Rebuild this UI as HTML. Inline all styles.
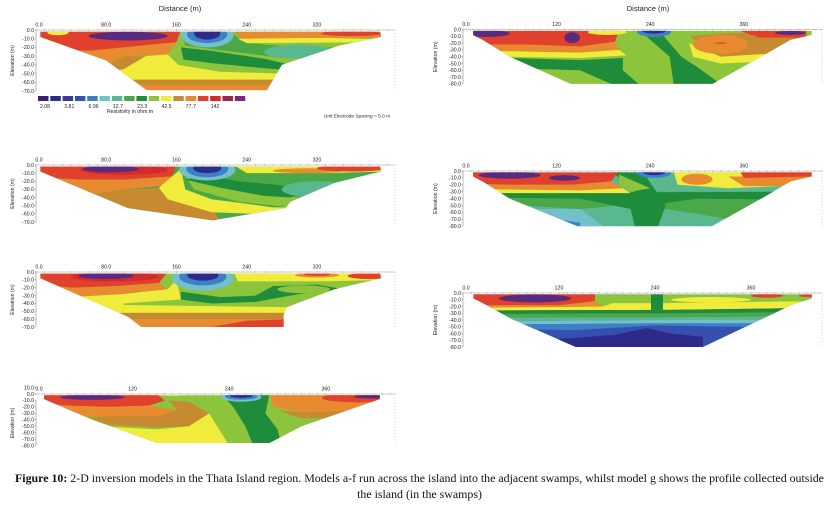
<!DOCTYPE html>
<html><head><meta charset="utf-8">
<style>
html,body{margin:0;padding:0;background:#fff;}
body{width:839px;height:509px;overflow:hidden;position:relative;font-family:"Liberation Sans",sans-serif;}
svg{position:absolute;left:0;top:0;}
.cap{position:absolute;left:0;width:839px;text-align:center;font-family:"Liberation Serif",serif;font-size:11.9px;color:#111;white-space:nowrap;}
</style></head>
<body>
<svg id="fig" width="839" height="509" viewBox="0 0 839 509"></svg>
<div class="cap" style="top:471px"><b>Figure 10:</b> 2-D inversion models in the Thata Island region. Models a-f run across the island into the adjacent swamps, whilst model g shows the profile collected outside</div>
<div class="cap" style="top:487px">the island (in the swamps)</div>
<script>
// ---- data ----
const legendColors = ["#3b1f6e","#2d2a8a","#3a3a9a","#3650b0","#3c80c8","#74c0c8","#5ab890","#4aa848","#1e8c3a","#8cc43c","#f0ec3c","#c88a30","#e88a30","#e0402c","#d42a2a","#9a2848","#7a2a7a"];
const legendValues = ["2.08","3.81","6.96","12.7","23.3","42.5","77.7","142"];
const xTicksA = [0,80,160,240,320];
const xTickLabelsA = ["0.0","80.0","160","240","320"];
const xTicksB = [0,120,240,360];
const xTickLabelsB = ["0.0","120","240","360"];
const yTicks70 = [0,-10,-20,-30,-40,-50,-60,-70];
const yTicks80 = [0,-10,-20,-30,-40,-50,-60,-70,-80];
const yTicksD = [10,0,-10,-20,-30,-40,-50,-60,-70,-80];

const C={pu:"#5a2a80",db:"#2d2a8a",bl:"#3650b0",mb:"#3c80c8",cy:"#74c0c8",te:"#5ab890",gr:"#4aa848",dg:"#1e8c3a",lg:"#8cc43c",ye:"#f0ec3c",br:"#c88a30",or:"#e88a30",rd:"#e0402c",dr:"#d42a2a"};

const panels=[
 {id:"a",x0:36,sx:0.878,y0:30,sy:0.871,xr:395,yTicks:yTicks70,xt:xTicksA,xl:xTickLabelsA,ylab:14,
  outline:[[5,2],[392,2],[393,8],[345,18],[280,40],[263,69],[126,69],[80,35],[5,8]],base:C.lg,
  layers:[
   [C.rd,[[0,0],[165,0],[160,14],[120,18],[60,24],[0,22]]],
   [C.or,[[0,22],[60,24],[120,18],[160,14],[150,28],[100,30],[80,42],[0,42]]],
   [C.br,[[0,42],[80,42],[100,30],[125,30],[100,45],[0,60]]],
   [C.ye,[[100,45],[125,30],[150,28],[162,40],[210,48],[280,50],[280,58],[0,58]]],
   [C.br,[[0,57],[400,57],[400,63],[0,63]]],
   [C.or,[[0,63],[400,63],[400,72],[0,72]]],
   [C.gr,[[165,5],[225,5],[240,15],[300,20],[400,20],[400,30],[280,32],[200,22],[170,18]]],
   [C.dg,[[165,20],[200,24],[260,33],[290,40],[285,46],[240,42],[200,38],[168,34]]],
   ["e",C.te,[300,25,40,8]],
   [C.or,[[225,0],[400,0],[400,9],[300,9],[235,11]]],
   ["e",C.rd,[360,4,35,3]],
   [C.ye,[[230,10],[330,9],[400,11],[400,14],[240,15]]],
   ["e",C.ye,[25,3,12,3]],
   ["e",C.pu,[105,7,45,5]],
   ["e",C.cy,[195,6,30,14]],["e",C.mb,[195,5,23,10]],["e",C.db,[195,4,15,7]]
  ]},
 {id:"b",x0:36,sx:0.878,y0:165,sy:0.814,xr:395,yTicks:yTicks70,xt:xTicksA,xl:xTickLabelsA,ylab:14,
  outline:[[5,2],[392,2],[393,8],[340,22],[290,45],[284,53],[201,68],[105,53],[5,8]],base:C.gr,
  layers:[
   [C.rd,[[0,0],[160,0],[155,14],[100,18],[50,18],[0,15]]],
   [C.or,[[0,15],[50,18],[100,18],[155,14],[150,25],[100,30],[40,40],[0,40]]],
   [C.br,[[0,40],[40,40],[100,30],[140,28],[150,42],[200,50],[210,70],[0,70]]],
   [C.ye,[[140,28],[155,14],[165,5],[170,30],[200,42],[270,52],[290,52],[250,60],[200,58],[150,42]]],
   [C.lg,[[165,5],[180,30],[230,45],[290,52],[300,40],[250,35],[200,20]]],
   [C.dg,[[170,18],[210,28],[260,38],[290,40],[300,35],[280,25],[230,20],[190,12]]],
   ["e",C.te,[320,30,40,10]],
   ["e",C.cy,[340,32,20,6]],
   [C.ye,[[225,0],[400,0],[400,8],[330,10],[240,10]]],
   ["e",C.or,[310,7,40,3]],
   ["e",C.rd,[360,4,40,4]],
   ["e",C.dr,[100,6,50,6]],
   ["e",C.pu,[85,5,32,4]],
   ["e",C.cy,[195,6,32,13]],["e",C.mb,[195,5,24,10]],["e",C.db,[195,4,16,6]]
  ]},
 {id:"c",x0:36,sx:0.878,y0:272,sy:0.786,xr:395,yTicks:yTicks70,xt:xTicksA,xl:xTickLabelsA,ylab:14,
  outline:[[5,2],[392,2],[393,8],[340,22],[285,45],[282,55],[282,70],[120,70],[105,57],[5,8]],base:C.lg,
  layers:[
   [C.rd,[[0,0],[150,0],[140,14],[90,18],[40,20],[0,15]]],
   [C.or,[[0,15],[40,20],[90,18],[140,14],[150,22],[100,28],[40,32],[0,32]]],
   [C.ye,[[0,32],[40,32],[100,28],[150,22],[160,10],[165,35],[100,40],[100,70],[0,70]]],
   [C.ye,[[100,42],[300,45],[300,52],[100,52]]],
   [C.br,[[0,52],[400,52],[400,60],[0,60]]],
   [C.or,[[0,60],[400,60],[400,70],[0,70]]],
   [C.rd,[[200,70],[240,62],[290,60],[290,70]]],
   [C.dg,[[165,25],[210,32],[250,30],[270,18],[320,16],[350,22],[300,28],[250,38],[200,40],[165,35]]],
   ["e",C.lg,[305,22,30,5]],
   [C.ye,[[225,0],[400,0],[400,10],[330,12],[230,12]]],
   ["e",C.or,[320,4,25,3]],["e",C.rd,[320,3,15,2]],
   ["e",C.rd,[380,5,25,4]],
   ["e",C.dr,[90,6,50,6]],
   ["e",C.pu,[80,5,32,4]],
   ["e",C.cy,[190,8,35,16]],["e",C.mb,[190,6,27,11]],["e",C.db,[190,4,18,7]]
  ]},
 {id:"d",x0:36,sx:0.805,y0:394,sy:0.644,xr:395,yTicks:yTicksD,xt:xTicksB,xl:xTickLabelsB,ylab:14,
  outline:[[10,2],[427,2],[427,8],[330,50],[290,76],[150,76],[70,40],[10,8]],base:C.lg,
  layers:[
   [C.rd,[[0,0],[150,0],[160,10],[140,18],[90,20],[40,18],[0,14]]],
   [C.or,[[0,14],[40,18],[90,20],[140,18],[175,25],[150,35],[90,35],[40,32],[0,30]]],
   [C.br,[[60,35],[90,35],[150,35],[175,25],[165,10],[190,12],[215,30],[190,50],[150,52],[90,48]]],
   [C.ye,[[0,38],[80,50],[150,55],[190,50],[215,30],[225,50],[240,80],[0,80]]],
   [C.lg,[[0,45],[60,60],[140,72],[160,80],[0,80]]],
   [C.dg,[[230,0],[290,0],[285,30],[300,55],[305,80],[270,80],[260,50],[245,20]]],
   [C.or,[[290,0],[440,0],[440,25],[330,28],[295,20]]],
   [C.br,[[300,25],[330,28],[440,25],[440,35],[330,38]]],
   ["e",C.rd,[400,6,45,7]],
   ["e",C.pu,[420,4,25,3]],
   ["e",C.pu,[70,5,40,4]],
   ["e",C.ye,[170,1,20,2]],
   ["e",C.cy,[255,5,25,7]],["e",C.mb,[255,4,20,5]],["e",C.db,[255,3,14,3]]
  ]},
 {id:"e",x0:463,sx:0.78,y0:29.5,sy:0.68,xr:822,yTicks:yTicks80,xt:xTicksB,xl:xTickLabelsB,ylab:437,
  outline:[[13,2],[447,2],[447,8],[420,15],[390,35],[320,80],[138,80],[60,40],[25,15],[13,8]],base:C.lg,
  layers:[
   [C.rd,[[0,0],[200,0],[195,18],[150,25],[80,22],[0,22]]],
   [C.or,[[0,22],[80,22],[150,25],[195,18],[200,30],[150,34],[60,32],[0,30]]],
   [C.ye,[[0,30],[60,32],[150,34],[200,30],[210,38],[150,42],[60,40]]],
   [C.dg,[[0,42],[60,42],[150,45],[205,42],[205,60],[225,80],[190,80],[150,60],[0,55]]],
   [C.dg,[[225,0],[250,0],[265,20],[280,40],[300,55],[330,80],[270,80],[265,40]]],
   [C.br,[[290,10],[340,5],[440,5],[440,25],[400,35],[330,40]]],
   [C.ye,[[290,20],[330,40],[400,35],[440,25],[440,45],[330,50],[295,40]]],
   ["e",C.or,[330,22,35,14]],
   ["e",C.rd,[330,20,8,1]],
   [C.rd,[[350,0],[440,0],[440,12],[380,12]]],
   ["e",C.pu,[420,5,20,3]],
   ["e",C.pu,[30,6,30,5]],["e",C.pu,[140,12,10,8]],
   ["e",C.ye,[185,4,25,4]],
   ["e",C.mb,[245,3,22,8]],["e",C.db,[245,2,15,4]]
  ]},
 {id:"f",x0:463,sx:0.78,y0:171,sy:0.69,xr:822,yTicks:yTicks80,xt:xTicksB,xl:xTickLabelsB,ylab:437,
  outline:[[13,2],[447,2],[447,8],[420,15],[390,35],[319,80],[147,80],[60,40],[25,15],[13,8]],base:C.te,
  layers:[
   [C.gr,[[0,30],[450,30],[450,60],[340,70],[300,62],[260,55],[200,50],[150,55],[0,45]]],
   [C.dg,[[0,32],[450,30],[450,42],[300,40],[250,48],[245,80],[220,80],[215,55],[150,40],[0,38]]],
   [C.dg,[[190,0],[230,0],[245,25],[260,50],[250,80],[245,80],[230,40]]],
   [C.lg,[[200,5],[240,25],[215,30],[200,20]]],
   [C.cy,[[90,55],[150,55],[180,80],[110,80]]],
   [C.mb,[[120,70],[150,75],[150,80],[130,80]]],
   [C.rd,[[0,0],[200,0],[190,15],[140,20],[60,20],[0,18]]],
   [C.or,[[0,18],[60,20],[140,20],[190,15],[205,25],[150,28],[0,26]]],
   [C.ye,[[0,26],[150,28],[205,25],[215,32],[150,32],[0,32]]],
   [C.ye,[[270,0],[450,0],[450,20],[340,25],[275,20]]],
   ["e",C.or,[300,12,20,8]],
   [C.or,[[340,8],[450,8],[450,22],[360,22]]],
   [C.rd,[[355,0],[450,0],[450,8],[360,10]]],
   ["e",C.pu,[60,6,40,5]],["e",C.pu,[130,10,20,4]],
   ["e",C.mb,[245,3,22,7]],["e",C.db,[245,2,14,4]]
  ]},
 {id:"g",x0:463,sx:0.80,y0:293,sy:0.675,xr:822,yTicks:yTicks80,xt:xTicksB,xl:xTickLabelsB,ylab:437,
  outline:[[13,2],[436,2],[436,8],[410,18],[380,35],[300,80],[141,80],[60,38],[25,15],[13,8]],base:C.bl,
  layers:[
   [C.lg,[[150,0],[200,0],[200,22],[150,22]]],
   [C.rd,[[0,0],[165,0],[165,12],[120,18],[0,18]]],
   [C.or,[[0,18],[120,18],[165,12],[175,20],[0,22]]],
   [C.ye,[[0,22],[175,20],[200,10],[260,12],[440,12],[440,22],[260,25],[0,26]]],
   [C.dg,[[0,26],[260,25],[440,22],[440,28],[260,30],[0,31]]],
   [C.gr,[[0,31],[260,30],[440,28],[440,34],[250,36],[0,36]]],
   [C.te,[[0,36],[250,36],[440,34],[440,40],[240,40],[0,42]]],
   [C.cy,[[0,42],[240,40],[440,40],[440,45],[240,45],[0,47]]],
   [C.mb,[[0,47],[240,45],[440,45],[440,52],[240,48],[140,55],[0,52]]],
   [C.db,[[120,68],[190,62],[230,52],[260,60],[300,65],[300,80],[120,80]]],
   [C.db,[[230,75],[240,70],[250,80]]],
   [C.lg,[[180,2],[440,2],[440,12],[250,15],[190,15]]],
   [C.dg,[[235,0],[250,0],[250,25],[235,25]]],
   ["e",C.ye,[310,10,50,4]],
   ["e",C.rd,[380,4,20,3]],["e",C.rd,[430,4,10,2]],
   ["e",C.pu,[90,8,45,6]]
  ]}
];

// ---- drawing ----
const NS="http://www.w3.org/2000/svg";
const svg=document.getElementById("fig");
function mk(tag,attrs,parent){const e=document.createElementNS(NS,tag);for(const k in attrs)e.setAttribute(k,attrs[k]);(parent||svg).appendChild(e);return e;}
function txt(x,y,s,size,anchor,parent){const t=mk("text",{x:x,y:y,"font-size":size,"text-anchor":anchor||"middle",fill:"#222","font-family":"Liberation Sans, sans-serif"},parent);t.textContent=s;return t;}

panels.forEach(p=>{
  const X=m=>p.x0+m*p.sx, Y=d=>p.y0+d*p.sy;
  const g=mk("g",{});
  
  
  const cp=mk("clipPath",{id:"clip"+p.id},g);
  const outlinePts=p.outline.map(q=>X(q[0])+","+Y(q[1])).join(" ");
  mk("polygon",{points:outlinePts},cp);
  const body=mk("g",{"clip-path":"url(#clip"+p.id+")"},g);
  mk("rect",{x:X(0),y:Y(0),width:X(460)-X(0),height:Y(90)-Y(0),fill:p.base},body);
  p.layers.forEach(L=>{
    let el;
    if(L[0]==="e"){const v=L[2];el=mk("ellipse",{cx:X(v[0]),cy:Y(v[1]),rx:v[2]*p.sx,ry:v[3]*p.sy,fill:L[1]},body);}
    else el=mk("polygon",{points:L[1].map(q=>X(q[0])+","+Y(q[1])).join(" "),fill:L[0]},body);
    
    
  });
  const yTop=Y(p.yTicks[0]), yBot=Y(-p.yTicks[p.yTicks.length-1]);
  const ax=mk("g",{},g);
  
  
  mk("line",{x1:p.x0,y1:Y(0),x2:p.xr,y2:Y(0),stroke:"#999","stroke-width":0.6},ax);
  for(let m=0;X(m)<=p.xr;m+=10) mk("line",{x1:X(m),y1:Y(0)-1,x2:X(m),y2:Y(0)+1,stroke:"#999","stroke-width":0.4},ax);
  mk("line",{x1:p.x0,y1:yTop,x2:p.x0,y2:yBot,stroke:"#888","stroke-width":0.6},ax);
  mk("line",{x1:p.xr,y1:Y(0),x2:p.xr,y2:yBot,stroke:"#aaa","stroke-width":0.5,"stroke-dasharray":"1,2"},ax);
  p.yTicks.forEach(v=>{
    const yy=Y(-v);
    mk("line",{x1:p.x0-1.5,y1:yy,x2:p.x0,y2:yy,stroke:"#888","stroke-width":0.5},ax);
    txt(p.x0-2,yy+1.8,v.toFixed(1),5.2,"end",ax);
  });
  p.xt.forEach((v,i)=>txt(X(v)+(i===0?3:0),Y(0)-3.5,p.xl[i],5.2,"middle",ax));
  const yl=txt(0,0,"Elevation (m)",5.2,"middle",ax);
  yl.setAttribute("transform","translate("+(p.ylab)+","+((yTop+yBot)/2)+") rotate(-90)");
  
  
});

const t1=txt(180,11,"Distance (m)",7.5,"middle");


const t2=txt(648,11,"Distance (m)",7.5,"middle");



const lg=mk("g",{});


legendColors.forEach((c,i)=>{
  const r=mk("rect",{x:38+i*12.3,y:96,width:10.5,height:5,fill:c},lg);
  
  
});
legendValues.forEach((v,i)=>txt(45+i*24.3,108,v,5.2,"middle",lg));
txt(130,113,"Resistivity in ohm.m",5.2,"middle",lg);
const us=txt(357,117.5,"Unit Electrode Spacing = 5.0 m",4.8,"middle");


</script>
</body></html>
